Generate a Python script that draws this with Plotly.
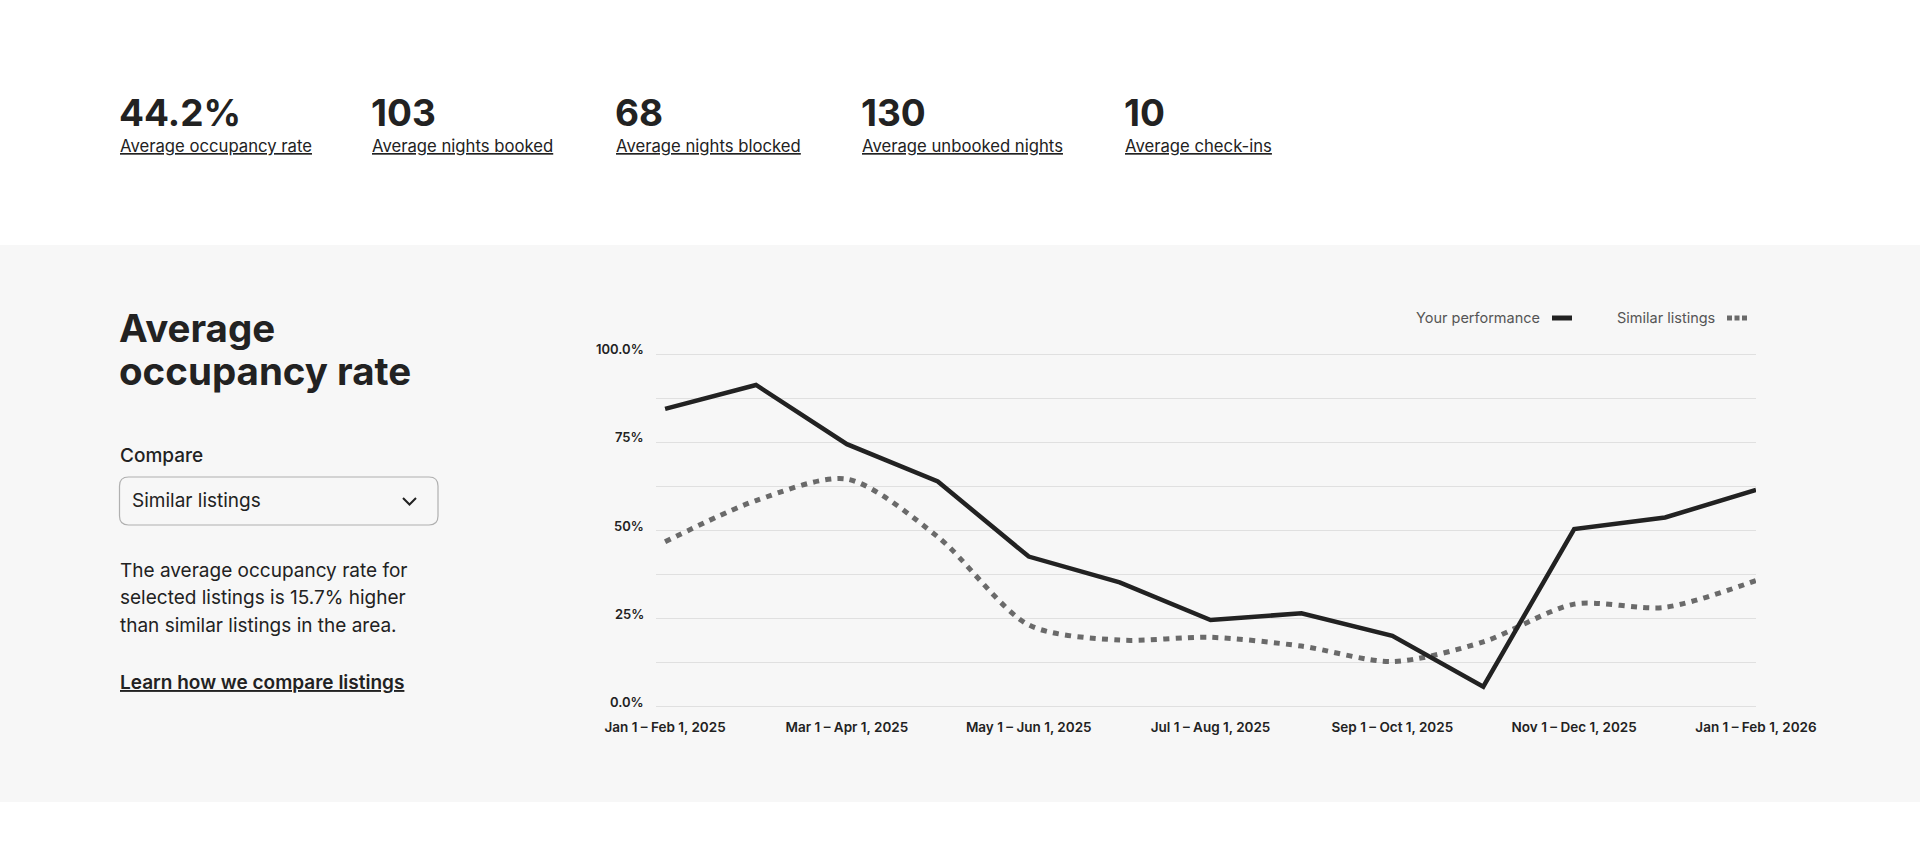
import plotly.graph_objects as go

# ---------------- data ----------------
periods = ["Jan 1 – Feb 1, 2025", "Feb 1 – Mar 1, 2025", "Mar 1 – Apr 1, 2025",
           "Apr 1 – May 1, 2025", "May 1 – Jun 1, 2025", "Jun 1 – Jul 1, 2025",
           "Jul 1 – Aug 1, 2025", "Aug 1 – Sep 1, 2025", "Sep 1 – Oct 1, 2025",
           "Oct 1 – Nov 1, 2025", "Nov 1 – Dec 1, 2025", "Dec 1 – Jan 1, 2026",
           "Jan 1 – Feb 1, 2026"]
your_performance = [84.5, 91.3, 74.5, 63.9, 42.6, 35.3, 24.6, 26.5, 20.1, 5.7, 50.4, 53.7, 61.5]
similar_listings = [46.8, 58.5, 64.6, 48.2, 23.2, 18.9, 19.7, 17.2, 12.8, 18.4, 29.1, 28.2, 35.8]
x_tick_vals = periods[::2]
y_grid_vals = [0, 12.5, 25, 37.5, 50, 62.5, 75, 87.5, 100]
y_label_vals = [0, 25, 50, 75, 100]
y_label_text = ["0.0%", "25%", "50%", "75%", "100.0%"]
kpi_values = ["44.2%", "103", "68", "130", "10"]
kpi_labels = ["Average occupancy rate", "Average nights booked", "Average nights blocked",
              "Average unbooked nights", "Average check-ins"]
series_names = ["Your performance", "Similar listings"]

W, H = 1920, 860
FONT = "Inter"
DARK = "#222222"
GREY_LINE = "#6a6a6a"


def px(x):
    return x / W


def py(y):
    return 1 - y / H


fig = go.Figure()
fig.add_trace(go.Scatter(x=periods, y=similar_listings, mode="lines", name=series_names[1],
                         line=dict(color=GREY_LINE, width=5, dash="6px,6.3px", shape="spline",
                                   smoothing=0.8),
                         hoverinfo="skip"))
fig.add_trace(go.Scatter(x=periods, y=your_performance, mode="lines", name=series_names[0],
                         line=dict(color=DARK, width=4.5),
                         hoverinfo="skip"))

shapes = []
# grey band
shapes.append(dict(type="rect", xref="paper", yref="paper", x0=0, x1=1,
                   y0=py(802), y1=py(245), fillcolor="#f7f7f7", line=dict(width=0),
                   layer="below"))
# dropdown box with rounded corners
x0, x1, y0, y1, r = 119.5, 438, 477, 525, 9
pts = [
    f"M {px(x0 + r)},{py(y0)}",
    f"L {px(x1 - r)},{py(y0)}",
    f"Q {px(x1)},{py(y0)} {px(x1)},{py(y0 + r)}",
    f"L {px(x1)},{py(y1 - r)}",
    f"Q {px(x1)},{py(y1)} {px(x1 - r)},{py(y1)}",
    f"L {px(x0 + r)},{py(y1)}",
    f"Q {px(x0)},{py(y1)} {px(x0)},{py(y1 - r)}",
    f"L {px(x0)},{py(y0 + r)}",
    f"Q {px(x0)},{py(y0)} {px(x0 + r)},{py(y0)}",
    "Z",
]
shapes.append(dict(type="path", xref="paper", yref="paper", path=" ".join(pts),
                   line=dict(color="#b0b0b0", width=1.2), fillcolor="#f7f7f7"))
# chevron
shapes.append(dict(type="path", xref="paper", yref="paper",
                   path=f"M {px(403)},{py(498)} L {px(409.5)},{py(504.5)} L {px(416)},{py(498)}",
                   line=dict(color=DARK, width=2)))
# legend swatches
shapes.append(dict(type="rect", xref="paper", yref="paper", x0=px(1552), x1=px(1572),
                   y0=py(320.5), y1=py(315.5), fillcolor=DARK, line=dict(width=0)))
for sx in (1727, 1734.5, 1742):
    shapes.append(dict(type="rect", xref="paper", yref="paper", x0=px(sx), x1=px(sx + 5),
                       y0=py(320.5), y1=py(315.5), fillcolor=GREY_LINE, line=dict(width=0)))

ann = []
kpi_x = [119, 371, 615, 861, 1124]
for xv, val, lab in zip(kpi_x, kpi_values, kpi_labels):
    ann.append(dict(x=px(xv - 2), y=py(113), xref="paper", yref="paper", text=val,
                    showarrow=False, xanchor="left", yanchor="middle",
                    font=dict(family=FONT, size=37, color=DARK, weight=700)))
    ann.append(dict(x=px(xv - 1), y=py(146), xref="paper", yref="paper", text=lab,
                    showarrow=False, xanchor="left", yanchor="middle",
                    font=dict(family=FONT, size=16.7, color=DARK, lineposition="under")))

ann.append(dict(x=px(117), y=py(328), xref="paper", yref="paper", text="Average",
                showarrow=False, xanchor="left", yanchor="middle",
                font=dict(family=FONT, size=38.5, color=DARK, weight=700)))
ann.append(dict(x=px(117), y=py(371), xref="paper", yref="paper", text="occupancy rate",
                showarrow=False, xanchor="left", yanchor="middle",
                font=dict(family=FONT, size=38.5, color=DARK, weight=700)))
ann.append(dict(x=px(118), y=py(455), xref="paper", yref="paper", text="Compare",
                showarrow=False, xanchor="left", yanchor="middle",
                font=dict(family=FONT, size=19, color=DARK, weight=500)))
ann.append(dict(x=px(130), y=py(501), xref="paper", yref="paper", text="Similar listings",
                showarrow=False, xanchor="left", yanchor="middle",
                font=dict(family=FONT, size=19, color=DARK)))
para = ["The average occupancy rate for", "selected listings is 15.7% higher",
        "than similar listings in the area."]
for i, line in enumerate(para):
    ann.append(dict(x=px(118), y=py(570 + 27.5 * i), xref="paper", yref="paper", text=line,
                    showarrow=False, xanchor="left", yanchor="middle",
                    font=dict(family=FONT, size=19, color=DARK)))
ann.append(dict(x=px(118), y=py(682), xref="paper", yref="paper",
                text="Learn how we compare listings",
                showarrow=False, xanchor="left", yanchor="middle",
                font=dict(family=FONT, size=19, color=DARK, weight=600, lineposition="under")))
# legend labels
ann.append(dict(x=px(1542), y=py(318), xref="paper", yref="paper", text=series_names[0],
                showarrow=False, xanchor="right", yanchor="middle",
                font=dict(family=FONT, size=14.5, color="#555555")))
ann.append(dict(x=px(1717), y=py(318), xref="paper", yref="paper", text=series_names[1],
                showarrow=False, xanchor="right", yanchor="middle",
                font=dict(family=FONT, size=14.5, color="#555555")))
# y axis labels (sit slightly above their gridlines)
for v, t in zip(y_label_vals, y_label_text):
    ann.append(dict(x=px(646), y=v, xref="paper", yref="y", text=t, showarrow=False,
                    xanchor="right", yanchor="middle", yshift=5,
                    font=dict(family=FONT, size=13, color=DARK, weight=600)))

fig.update_layout(
    width=W, height=H,
    margin=dict(l=0, r=0, t=0, b=0, pad=0, autoexpand=False),
    paper_bgcolor="white",
    plot_bgcolor="rgba(0,0,0,0)",
    showlegend=False,
    shapes=shapes,
    annotations=ann,
    xaxis=dict(domain=[px(656), px(1756)], range=[-0.1, 12], type="category",
               tickvals=x_tick_vals, ticktext=x_tick_vals, showgrid=False, zeroline=False,
               showline=False, ticks="", ticklabelstandoff=9, automargin=False,
               tickfont=dict(family=FONT, size=13.5, color=DARK, weight=600)),
    yaxis=dict(domain=[py(708.46), py(352.54)], range=[-0.5, 100.5], tickvals=y_grid_vals,
               showticklabels=False, showgrid=True, gridcolor="#e0e0e0", gridwidth=1,
               zeroline=False, showline=False, ticks="", automargin=False),
)

fig.write_html("out.html", config={"displayModeBar": False},
               post_script="document.body.style.margin='0';document.body.style.overflow='hidden';")
